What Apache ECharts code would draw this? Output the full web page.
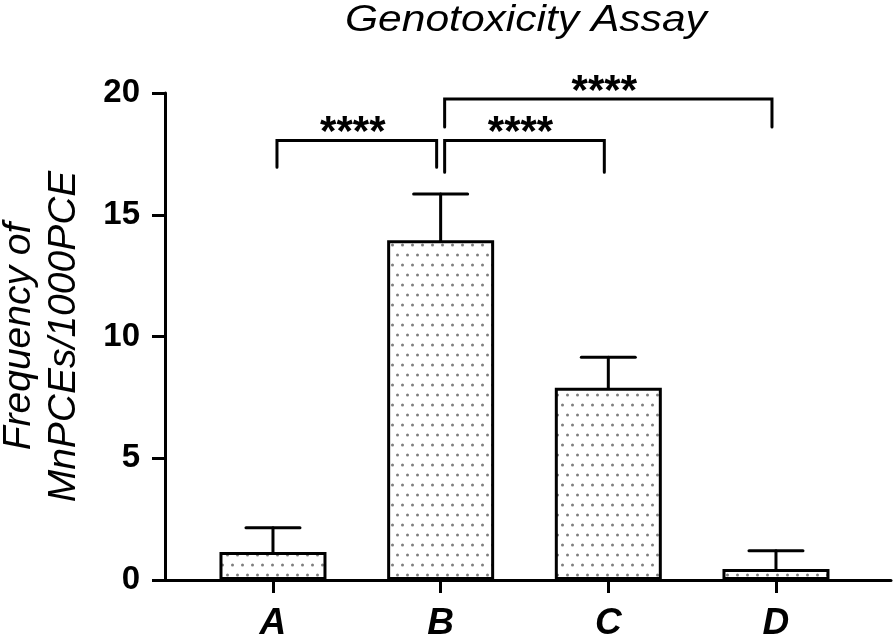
<!DOCTYPE html>
<html>
<head>
<meta charset="utf-8">
<script src="https://cdn.jsdelivr.net/npm/echarts@6/dist/echarts.min.js"></script>
<style>
html,body{margin:0;padding:0;background:#fff;}
#chart{width:893px;height:638px;}
</style>
</head>
<body>
<div id="chart"></div>
<script>
// ---- data ----
const categories = ['A', 'B', 'C', 'D'];
const means = [1.15, 13.95, 7.9, 0.45];
const sds = [1.0, 1.9, 1.25, 0.75];
const yTicks = [0, 5, 10, 15, 20];
const bracketFrom = [0, 1, 1];
const bracketTo = [1, 2, 3];
const bracketY = [18.05, 18.05, 19.75];
const bracketLegLeft = [16.95, 16.75, 18.6];
const bracketLegRight = [16.95, 16.75, 18.6];
const bracketLabels = ['****', '****', '****'];
const titleText = 'Genotoxicity Assay';
const yName = 'Frequency of\nMnPCEs/1000PCE';

// ---- dotted pattern ----
const pat = document.createElement('canvas');
pat.width = 10; pat.height = 20;
const pc = pat.getContext('2d');
pc.fillStyle = '#ffffff';
pc.fillRect(0, 0, 10, 20);
pc.fillStyle = '#7f7f7f';
[[2.5, 5], [7.5, 15]].forEach(function (d) {
  pc.beginPath(); pc.arc(d[0], d[1], 1.5, 0, Math.PI * 2); pc.fill();
});

const FONT = "'Liberation Sans', Arial, sans-serif";
const chart = echarts.init(document.getElementById('chart'), null, { renderer: 'canvas' });

const barData = categories.map(function (c, i) { return [i, means[i]]; });
const errData = categories.map(function (c, i) { return [i, means[i], means[i] + sds[i]]; });
const brData = bracketFrom.map(function (f, i) {
  return [f, bracketTo[i], bracketY[i], bracketLegLeft[i], bracketLegRight[i]];
});
const catIdx = categories.map(function (c, i) { return i; });

const option = {
  animation: false,
  backgroundColor: '#fff',
  graphic: [{
    type: 'text', x: 345, y: 2, scaleX: 1.15,
    style: { text: titleText, font: 'italic 37px ' + FONT, fill: '#000', align: 'left', verticalAlign: 'top' }
  }],
  grid: { left: 165, right: 2, top: 93, bottom: 58, containLabel: false, outerBoundsMode: 'none' },
  xAxis: {
    type: 'value', min: -0.644, max: 3.686,
    splitLine: { show: false },
    axisLine: { show: true, onZero: false, lineStyle: { color: '#000', width: 3 } },
    axisTick: { show: true, customValues: catIdx, length: 13, lineStyle: { color: '#000', width: 3 } },
    axisLabel: {
      show: true, customValues: catIdx,
      formatter: function (v) { return categories[Math.round(v)]; },
      margin: 25, color: '#000', fontSize: 37, fontStyle: 'italic', fontWeight: 'bold', fontFamily: FONT
    }
  },
  yAxis: {
    type: 'value', min: yTicks[0], max: yTicks[yTicks.length - 1], interval: 5,
    splitLine: { show: false },
    axisLine: { show: true, onZero: false, lineStyle: { color: '#000', width: 3 } },
    axisTick: { show: true, length: 13, lineStyle: { color: '#000', width: 3 } },
    axisLabel: { margin: 25, color: '#000', fontSize: 33, fontWeight: 'bold', fontFamily: FONT },
    name: yName, nameLocation: 'middle', nameGap: 78, nameRotate: 90,
    nameTextStyle: { color: '#000', fontSize: 39, fontStyle: 'italic', fontFamily: FONT, lineHeight: 45 }
  },
  series: [
    {
      type: 'bar', data: barData, barWidth: 107,
      itemStyle: { color: { image: pat, repeat: 'repeat' }, borderColor: '#000', borderWidth: 3 },
      z: 2
    },
    {
      type: 'custom', data: errData, z: 3,
      renderItem: function (params, api) {
        const x = api.value(0);
        const p0 = api.coord([x, api.value(1)]);
        const p1 = api.coord([x, api.value(2)]);
        const st = { stroke: '#000', lineWidth: 3, lineCap: 'round' };
        return {
          type: 'group', children: [
            { type: 'line', shape: { x1: p0[0], y1: p0[1], x2: p1[0], y2: p1[1] }, style: st },
            { type: 'line', shape: { x1: p1[0] - 27, y1: p1[1], x2: p1[0] + 27, y2: p1[1] }, style: st }
          ]
        };
      }
    },
    {
      type: 'custom', data: brData, z: 4, clip: false,
      renderItem: function (params, api) {
        const pl = api.coord([api.value(0), api.value(2)]);
        const pr = api.coord([api.value(1), api.value(2)]);
        const yl = api.coord([api.value(0), api.value(3)])[1];
        const yr = api.coord([api.value(1), api.value(4)])[1];
        const xl = pl[0] + 4, xr = pr[0] - 4;
        return {
          type: 'group', children: [
            { type: 'polyline', shape: { points: [[xl, yl], [xl, pl[1]], [xr, pr[1]], [xr, yr]] },
              style: { stroke: '#000', lineWidth: 3, fill: null, lineJoin: 'miter', lineCap: 'round' } },
            { type: 'text', style: { text: bracketLabels[params.dataIndex], x: (xl + xr) / 2 - 4, y: pl[1] + 14,
              align: 'center', verticalAlign: 'bottom', font: 'bold 42px ' + FONT, fill: '#000' } }
          ]
        };
      }
    }
  ]
};
chart.setOption(option);
</script>
</body>
</html>
